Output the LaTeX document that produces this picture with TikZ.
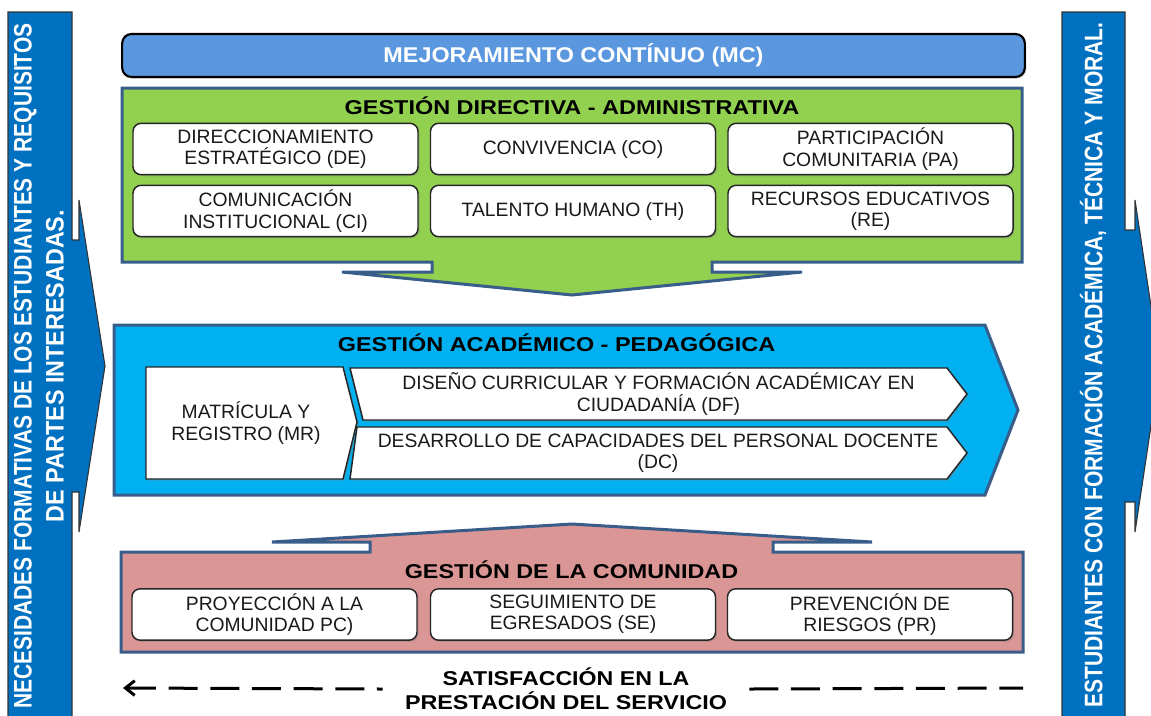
\documentclass[tikz,border=0pt]{standalone}
\usepackage{fontspec}
\setmainfont{Liberation Sans}
\usepackage{graphicx}
\usetikzlibrary{arrows.meta,shadows}
\newcommand{\fitw}[2]{\resizebox{#1}{\height}{#2}}
\definecolor{sideblue}{RGB}{0,112,192}
\definecolor{mcblue}{RGB}{91,151,222}
\definecolor{gdgreen}{RGB}{146,208,80}
\definecolor{gapblue}{RGB}{0,176,240}
\definecolor{gcpink}{RGB}{217,150,148}
\definecolor{bordc}{RGB}{56,93,138}
\definecolor{txt}{RGB}{25,25,25}
\begin{document}
\begin{tikzpicture}[x=0.75pt,y=-0.75pt,
  sidebar/.style={draw=black!80, line width=0.8pt, fill=sideblue},
  sidetext/.style={rotate=90, text=white, align=center, inner sep=0pt,
    font=\bfseries\fontsize{19}{24}\selectfont},
  cont/.style={draw=bordc, line width=2.25pt, line join=miter},
  title/.style={text=black, inner sep=0pt, font=\bfseries\fontsize{15}{18}\selectfont},
  ibox/.style={draw=black!85, line width=1.1pt, fill=white, rounded corners=6pt,
    minimum width=213.75pt, minimum height=38.5pt, align=center, inner sep=0pt,
    text=txt, font=\fontsize{14.5}{16}\selectfont,
    drop shadow={shadow xshift=1.2pt, shadow yshift=-1.2pt, opacity=0.35}},
  wshape/.style={draw=black!85, line width=1.1pt, fill=white,
    drop shadow={shadow xshift=1.2pt, shadow yshift=-1.2pt, opacity=0.35}},
  wtext/.style={align=center, inner sep=0pt, text=txt, font=\fontsize{14.5}{16}\selectfont},
  dashline/.style={line width=2.25pt, dash pattern=on 21.75pt off 9.5pt}
]
\useasboundingbox (0,0) rectangle (1151,715);

% side bars with arrows
\draw[sidebar] (8,12) -- (72,12) -- (72,240) -- (79,240) -- (79,200) -- (105,366)
  -- (79,532) -- (79,492) -- (72,492) -- (72,730) -- (8,730) -- cycle;
\node[sidetext] (need) at (39,366) {\fitw{514pt}{NECESIDADES FORMATIVAS DE LOS ESTUDIANTES Y REQUISITOS}\\\fitw{234pt}{DE PARTES INTERESADAS.}};

\draw[sidebar] (1062,12) -- (1125,12) -- (1125,230) -- (1135,230) -- (1135,200) -- (1160,366)
  -- (1135,532) -- (1135,502) -- (1125,502) -- (1125,730) -- (1062,730) -- cycle;
\node[sidetext] (est) at (1093,365) {\fitw{514pt}{ESTUDIANTES CON FORMACIÓN ACADÉMICA, TÉCNICA Y MORAL.}};

% mejoramiento continuo
\node[draw=black, line width=1.6pt, fill=mcblue, rounded corners=7pt,
  minimum width=677pt, minimum height=32.25pt, inner sep=0pt, text=white,
  font=\bfseries\fontsize{16}{18}\selectfont,
  drop shadow={shadow xshift=1.2pt, shadow yshift=-1.2pt, opacity=0.3}]
  (mc) at (573.5,55.5) {\fitw{285pt}{MEJORAMIENTO CONTÍNUO (MC)}};

% gestion directiva
\draw[cont, fill=gdgreen] (122,88) -- (1022,88) -- (1022,262) -- (712,262) -- (712,272)
  -- (802,272) -- (572,295) -- (342,272) -- (432,272) -- (432,262) -- (122,262) -- cycle;
\node[title] (gda) at (572,106) {\fitw{341pt}{GESTIÓN DIRECTIVA - ADMINISTRATIVA}};
\node[ibox] (de) at (275.5,149) {DIRECCIONAMIENTO\\ESTRATÉGICO (DE)};
\node[ibox] (co) at (573,149) {CONVIVENCIA (CO)};
\node[ibox] (pa) at (870.5,149) {PARTICIPACIÓN\\COMUNITARIA (PA)};
\node[ibox] (ci) at (275.5,211) {COMUNICACIÓN\\INSTITUCIONAL (CI)};
\node[ibox] (th) at (573,211) {TALENTO HUMANO (TH)};
\node[ibox] (re) at (870.5,211) {RECURSOS EDUCATIVOS\\(RE)};

% gestion academico
\draw[cont, fill=gapblue] (114,325) -- (985,325) -- (1018,410) -- (985,495) -- (114,495) -- cycle;
\node[title] (gap) at (556.5,343) {\fitw{328pt}{GESTIÓN ACADÉMICO - PEDAGÓGICA}};
\draw[wshape] (146,367) -- (343,367) -- (357,422) -- (343,479) -- (146,479) -- cycle;
\draw[wshape] (350,368) -- (947,368) -- (967,394) -- (947,420) -- (363,420) -- cycle;
\draw[wshape] (357,427) -- (947,427) -- (967,453) -- (947,479) -- (350,479) -- cycle;
\node[wtext] (mr) at (246,423) {MATRÍCULA Y\\REGISTRO (MR)};
\node[wtext] (df) at (658.5,394) {DISEÑO CURRICULAR Y FORMACIÓN ACADÉMICAY EN\\CIUDADANÍA (DF)};
\node[wtext] (dc) at (658,453) {DESARROLLO DE CAPACIDADES DEL PERSONAL DOCENTE\\(DC)};

% gestion comunidad
\draw[cont, fill=gcpink] (121,552) -- (370,552) -- (370,542) -- (272,542) -- (572,524)
  -- (872,542) -- (773,542) -- (773,552) -- (1023,552) -- (1023,652) -- (121,652) -- cycle;
\node[title] (gc) at (571.5,570) {\fitw{250pt}{GESTIÓN DE LA COMUNIDAD}};
\node[ibox] (pc) at (274.5,614.5) {PROYECCIÓN A LA\\COMUNIDAD PC)};
\node[ibox] (se) at (573,614.5) {SEGUIMIENTO DE\\EGRESADOS (SE)};
\node[ibox] (pr) at (870,614.5) {PREVENCIÓN DE\\RIESGOS (PR)};

% satisfaccion
\node[align=center, inner ysep=0pt, inner xsep=16.5pt, text=black,
  font=\bfseries\fontsize{15}{18}\selectfont]
  (sat) at (566,689) {\fitw{185pt}{SATISFACCIÓN EN LA}\\\fitw{241.5pt}{PRESTACIÓN DEL SERVICIO}};
\coordinate (dl) at (123,688);
\coordinate (dr) at (1023,688);
\draw[dashline, {Straight Barb[length=7pt,width=11pt]}-] (dl) -- (sat.west);
\draw[dashline] (sat.east) -- (dr);
\end{tikzpicture}
\end{document}
